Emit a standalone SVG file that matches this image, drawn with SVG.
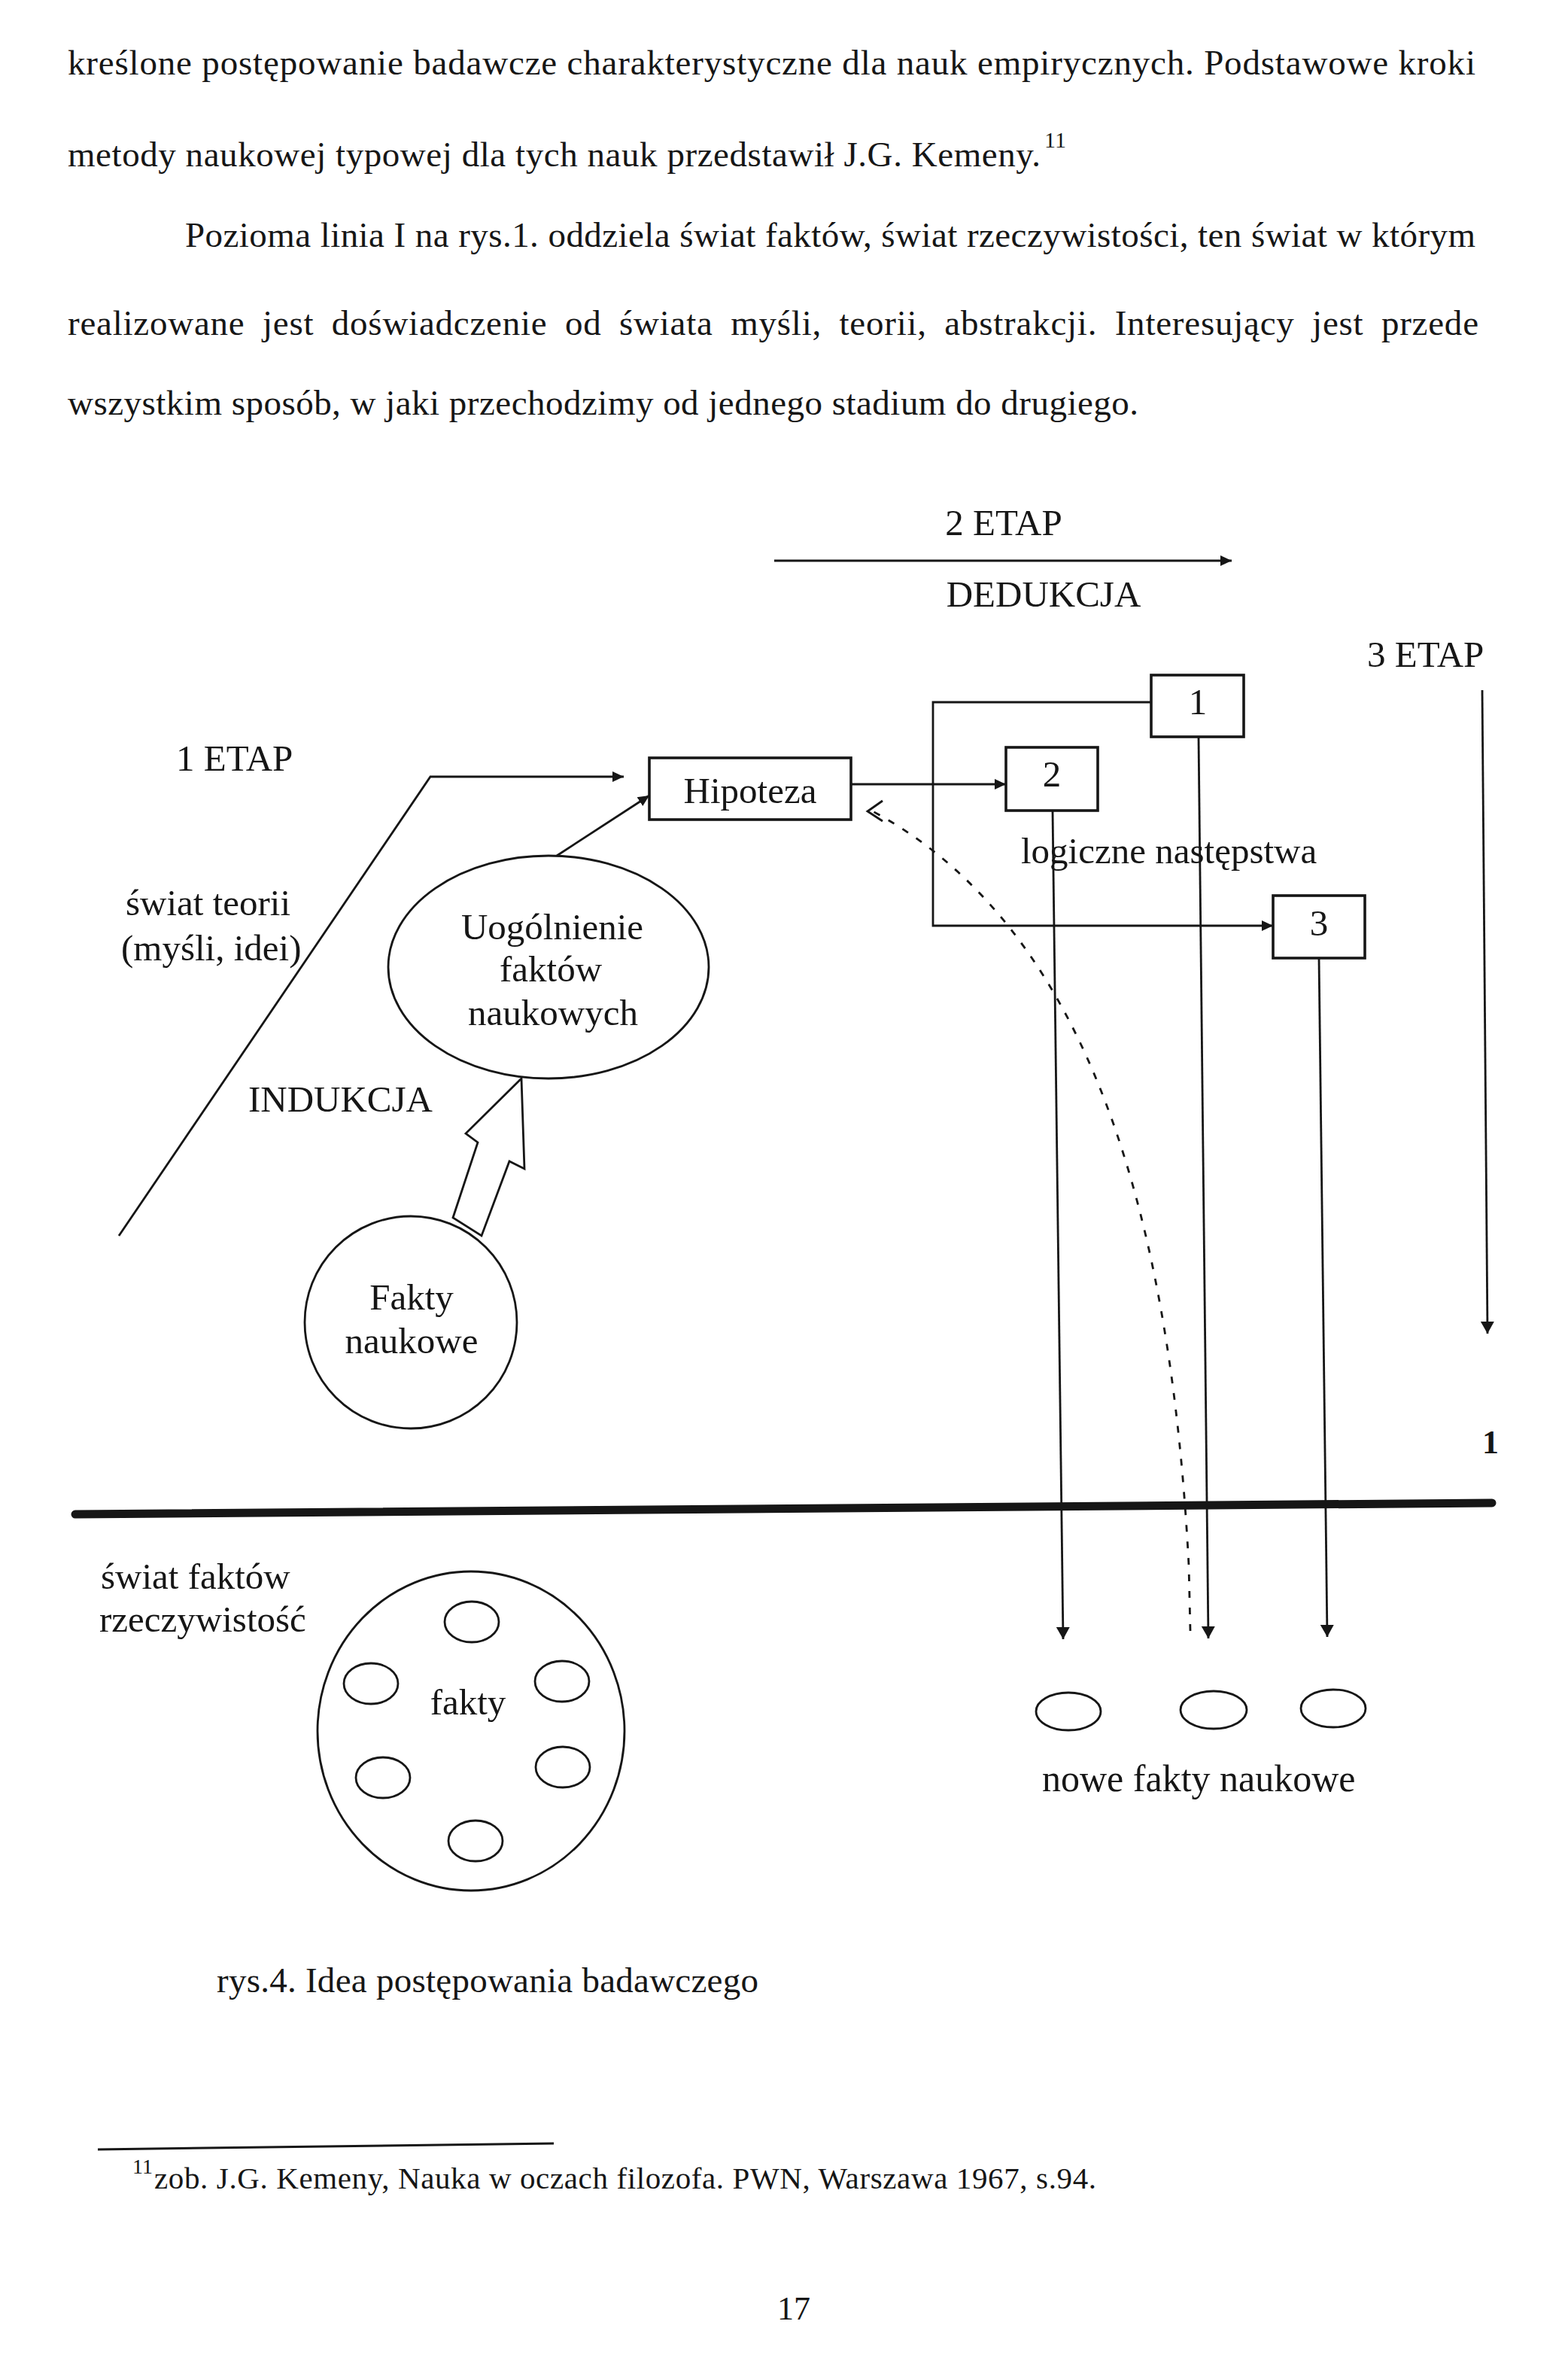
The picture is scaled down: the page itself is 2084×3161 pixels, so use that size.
<svg xmlns="http://www.w3.org/2000/svg" width="2084" height="3161" viewBox="0 0 2084 3161">
<style>
text{font-family:"Liberation Serif","Times New Roman",serif;fill:#161616}
.body{font-size:47px}
.lbl{font-size:49px}
.mid{text-anchor:middle}
.ln{fill:none;stroke:#161616;stroke-width:2.8}
.box{fill:#fff;stroke:#161616;stroke-width:3.6}
.ell{fill:none;stroke:#161616;stroke-width:2.8}
</style>
<defs>
<marker id="ah" markerUnits="userSpaceOnUse" markerWidth="16" markerHeight="16" refX="15" refY="8" orient="auto">
<path d="M0,1 L15,8 L0,15 z" fill="#161616"/>
</marker>
<marker id="ahd" markerUnits="userSpaceOnUse" markerWidth="18" markerHeight="20" refX="16" refY="10" orient="auto">
<path d="M0,1 L16,10 L0,19 z" fill="#161616"/>
</marker>
</defs>
<rect width="2084" height="3161" fill="#fff"/>

<g id="paragraph">
<text class="body" x="90" y="99" textLength="1871" lengthAdjust="spacing">kreślone postępowanie badawcze charakterystyczne dla nauk empirycznych. Podstawowe kroki</text>
<text class="body" x="90" y="221" textLength="1293" lengthAdjust="spacing">metody naukowej typowej dla tych nauk przedstawił J.G. Kemeny.</text>
<text x="1388" y="196" style="font-size:30px">11</text>
<text class="body" x="246" y="328" textLength="1715" lengthAdjust="spacing">Pozioma linia I na rys.1. oddziela świat faktów, świat rzeczywistości, ten świat w którym</text>
<text class="body" x="90" y="445" textLength="1875" lengthAdjust="spacing" style="word-spacing:11px">realizowane jest doświadczenie od świata myśli, teorii, abstrakcji. Interesujący jest przede</text>
<text class="body" x="90" y="551" textLength="1423" lengthAdjust="spacing">wszystkim sposób, w jaki przechodzimy od jednego stadium do drugiego.</text>
</g>

<g id="connectors">
<line class="ln" x1="1029" y1="745" x2="1637" y2="745" stroke-width="3.2" marker-end="url(#ah)"/>
<polyline class="ln" points="158,1642 572,1032 829,1032" stroke-width="3.6" marker-end="url(#ah)"/>
<line class="ln" x1="740" y1="1137" x2="863" y2="1057" stroke-width="3.2" marker-end="url(#ah)"/>
<line class="ln" x1="1131" y1="1042" x2="1337" y2="1042" marker-end="url(#ah)"/>
<polyline class="ln" points="1530,933 1240,933 1240,1230 1692,1230" marker-end="url(#ah)"/>
<line class="ln" x1="1399" y1="1077" x2="1413" y2="2178" marker-end="url(#ahd)"/>
<line class="ln" x1="1593" y1="979" x2="1606" y2="2177" marker-end="url(#ahd)"/>
<line class="ln" x1="1753" y1="1273" x2="1764" y2="2175" marker-end="url(#ahd)"/>
<line class="ln" x1="1970" y1="917" x2="1977" y2="1772" marker-end="url(#ahd)"/>
<path class="ln" d="M1582,2167 L1580,2080 C1560,1700 1480,1250 1160,1078" stroke-width="3.8" stroke-dasharray="9 13"/>
<polyline class="ln" points="1173,1064 1153,1078 1173,1091" stroke-width="3.4"/>
<polygon points="693,1433 697,1553 677,1543 640,1642 602,1618 635,1518 619,1506" fill="#fff" stroke="#161616" stroke-width="2.8" stroke-linejoin="miter"/>
<path d="M100,2012 L1983,1997" stroke="#161616" stroke-width="11" stroke-linecap="round" fill="none"/>
</g>

<g id="labels">
<text class="lbl mid" x="1334" y="711">2 ETAP</text>
<text class="lbl mid" x="1387" y="806">DEDUKCJA</text>
<text class="lbl" x="1817" y="886">3 ETAP</text>
<text class="lbl" x="234" y="1024">1 ETAP</text>
<text class="lbl" x="167" y="1216">świat teorii</text>
<text class="lbl" x="161" y="1276">(myśli, idei)</text>
<text class="lbl" x="330" y="1477">INDUKCJA</text>
<text class="lbl" x="1357" y="1147">logiczne następstwa</text>
<text x="1981" y="1931" class="mid" style="font-size:44px;font-weight:bold">1</text>
<text class="lbl" x="134" y="2111">świat faktów</text>
<text class="lbl" x="132" y="2168">rzeczywistość</text>
<text class="lbl" x="1385" y="2380" style="font-size:50px">nowe fakty naukowe</text>
<text class="body" x="288" y="2647" textLength="720" lengthAdjust="spacing">rys.4. Idea postępowania badawczego</text>
</g>

<g id="node-hipoteza">
<rect class="box" x="863" y="1007" width="268" height="82"/>
<text class="lbl mid" x="997" y="1067">Hipoteza</text>
</g>
<g id="node-box1">
<rect class="box" x="1530" y="897" width="123" height="82"/>
<text class="lbl mid" x="1592" y="949">1</text>
</g>
<g id="node-box2">
<rect class="box" x="1337" y="993" width="122" height="84"/>
<text class="lbl mid" x="1398" y="1045">2</text>
</g>
<g id="node-box3">
<rect class="box" x="1692" y="1190" width="122" height="83"/>
<text class="lbl mid" x="1753" y="1243">3</text>
</g>
<g id="node-uogolnienie">
<ellipse class="ell" cx="729" cy="1285" rx="213" ry="148"/>
<text class="lbl mid" x="734" y="1248">Uogólnienie</text>
<text class="lbl mid" x="732" y="1304">faktów</text>
<text class="lbl mid" x="735" y="1362">naukowych</text>
</g>
<g id="node-fakty-naukowe">
<circle class="ell" cx="546" cy="1757" r="141"/>
<text class="lbl mid" x="547" y="1740">Fakty</text>
<text class="lbl mid" x="547" y="1798">naukowe</text>
</g>
<g id="node-fakty">
<ellipse class="ell" cx="626" cy="2300" rx="204" ry="212"/>
<ellipse class="ell" cx="627" cy="2155" rx="36" ry="27"/>
<ellipse class="ell" cx="493" cy="2237" rx="36" ry="27"/>
<ellipse class="ell" cx="747" cy="2234" rx="36" ry="27"/>
<ellipse class="ell" cx="509" cy="2362" rx="36" ry="27"/>
<ellipse class="ell" cx="748" cy="2348" rx="36" ry="27"/>
<ellipse class="ell" cx="632" cy="2446" rx="36" ry="27"/>
<text class="lbl mid" x="622" y="2278">fakty</text>
</g>
<g id="node-nowe-fakty">
<ellipse class="ell" cx="1420" cy="2274" rx="43" ry="25"/>
<ellipse class="ell" cx="1613" cy="2272" rx="44" ry="25"/>
<ellipse class="ell" cx="1772" cy="2270" rx="43" ry="25"/>
</g>

<g id="footnote">
<line x1="130" y1="2856" x2="736" y2="2848" stroke="#161616" stroke-width="3"/>
<text x="176" y="2888" style="font-size:28px">11</text>
<text class="body" x="205" y="2908" textLength="1252" lengthAdjust="spacing" style="font-size:41px">zob. J.G. Kemeny, Nauka w oczach filozofa. PWN, Warszawa 1967, s.94.</text>
<text class="body mid" x="1055" y="3082" style="font-size:44px">17</text>
</g>
</svg>
